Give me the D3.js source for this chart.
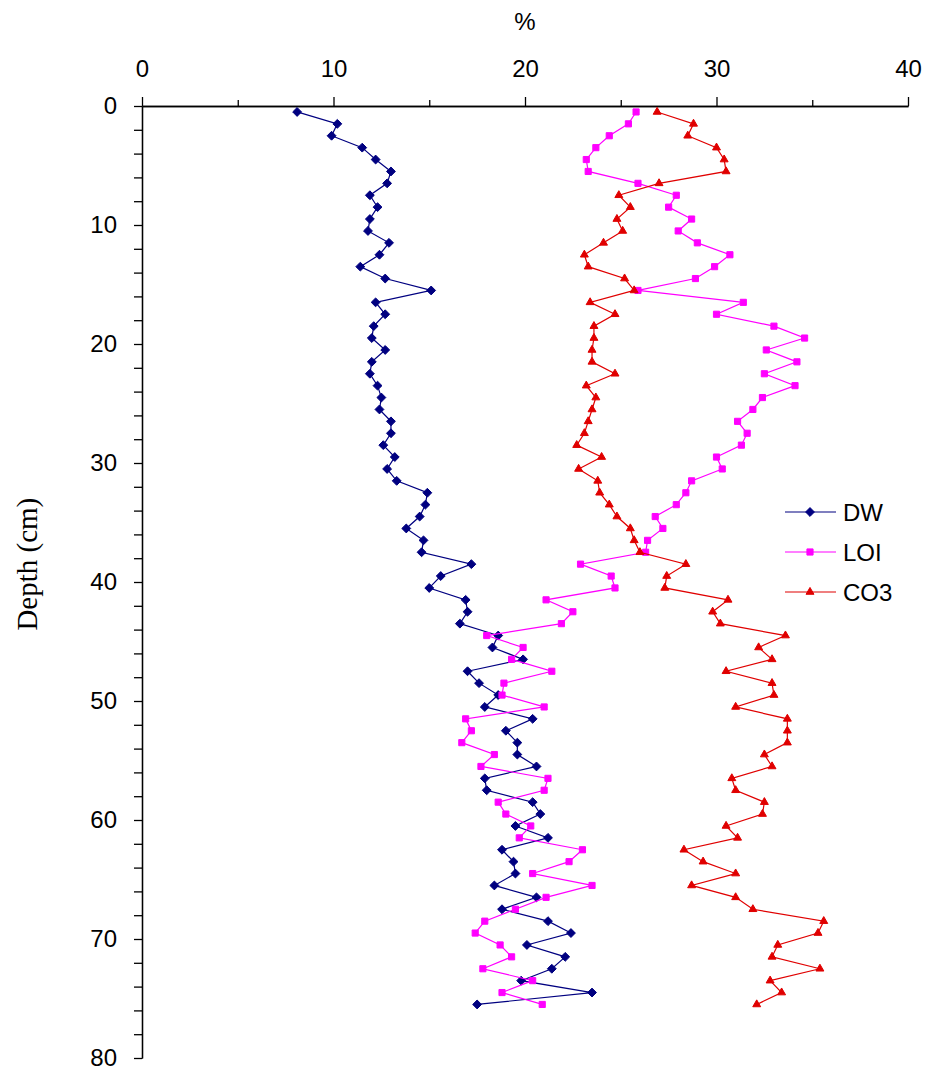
<!DOCTYPE html>
<html>
<head>
<meta charset="utf-8">
<script src="https://cdn.jsdelivr.net/npm/d3@7"></script>
<style>
  body { margin: 0; background: #fff; }
  .axis path, .axis line { stroke: #000; stroke-width: 1.3px; }
  .axis text { font-family: "Liberation Sans", Arial, sans-serif; font-size: 24px; fill: #000; }
</style>
</head>
<body>
<div id="chart"></div>
<script>
// depth of each sample (cm)
const depth = [0.5, 1.5, 2.5, 3.5, 4.5, 5.5, 6.5, 7.5, 8.5, 9.5,
  10.5, 11.5, 12.5, 13.5, 14.5, 15.5, 16.5, 17.5, 18.5, 19.5,
  20.5, 21.5, 22.5, 23.5, 24.5, 25.5, 26.5, 27.5, 28.5, 29.5,
  30.5, 31.5, 32.5, 33.5, 34.5, 35.5, 36.5, 37.5, 38.5, 39.5,
  40.5, 41.5, 42.5, 43.5, 44.5, 45.5, 46.5, 47.5, 48.5, 49.5,
  50.5, 51.5, 52.5, 53.5, 54.5, 55.5, 56.5, 57.5, 58.5, 59.5,
  60.5, 61.5, 62.5, 63.5, 64.5, 65.5, 66.5, 67.5, 68.5, 69.5,
  70.5, 71.5, 72.5, 73.5, 74.5, 75.5];

const dw = [8.1, 10.2, 9.9, 11.5, 12.2, 13.0, 12.8, 11.9, 12.3, 11.9,
  11.8, 12.9, 12.4, 11.4, 12.7, 15.1, 12.2, 12.7, 12.1, 12.0,
  12.7, 12.0, 11.9, 12.3, 12.5, 12.4, 13.0, 13.0, 12.6, 13.2,
  12.8, 13.3, 14.9, 14.8, 14.5, 13.8, 14.7, 14.6, 17.2, 15.6,
  15.0, 16.9, 17.0, 16.6, 18.6, 18.3, 19.9, 17.0, 17.6, 18.6,
  17.9, 20.4, 19.0, 19.6, 19.6, 20.6, 17.9, 18.0, 20.4, 20.8,
  19.5, 21.2, 18.8, 19.4, 19.5, 18.4, 20.6, 18.8, 21.2, 22.4,
  20.1, 22.1, 21.4, 19.8, 23.5, 17.5];

const loi = [25.8, 25.4, 24.4, 23.7, 23.2, 23.3, 25.9, 27.9, 27.5, 28.7,
  28.0, 29.0, 30.7, 29.9, 28.9, 25.9, 31.4, 30.0, 33.0, 34.6,
  32.6, 34.2, 32.5, 34.1, 32.4, 31.9, 31.1, 31.6, 31.3, 30.0,
  30.3, 28.7, 28.4, 27.9, 26.8, 27.2, 26.4, 26.3, 22.9, 24.5,
  24.7, 21.1, 22.5, 21.9, 18.0, 19.9, 19.3, 21.4, 18.9, 18.8,
  21.0, 16.9, 17.2, 16.7, 18.4, 17.7, 21.2, 21.0, 18.6, 19.0,
  20.3, 19.7, 23.0, 22.3, 20.4, 23.5, 21.1, 19.5, 17.9, 17.4,
  18.7, 19.3, 17.8, 20.4, 18.8, 20.9];

const co3 = [26.9, 28.8, 28.5, 30.0, 30.4, 30.5, 27.0, 24.9, 25.5, 24.8,
  25.1, 24.1, 23.1, 23.3, 25.2, 25.7, 23.4, 24.7, 23.6, 23.6,
  23.5, 23.5, 24.7, 23.2, 23.7, 23.5, 23.3, 23.1, 22.7, 24.0,
  22.8, 23.8, 23.9, 24.4, 24.8, 25.5, 25.7, 26.0, 28.4, 27.4,
  27.3, 30.6, 29.8, 30.2, 33.6, 32.2, 32.9, 30.5, 32.9, 33.0,
  31.0, 33.7, 33.7, 33.7, 32.5, 32.9, 30.8, 31.0, 32.5, 32.4,
  30.5, 31.1, 28.3, 29.3, 31.0, 28.7, 31.0, 31.9, 35.6, 35.3,
  33.2, 32.9, 35.4, 32.8, 33.4, 32.1];

const seriesNames = ["DW", "LOI", "CO3"];
const xTicks = [0, 10, 20, 30, 40];
const xMinorTicks = [5, 15, 25, 35];
const yTicks = [0, 10, 20, 30, 40, 50, 60, 70, 80];
const yMinorStep = 2;

const width = 926, height = 1074;
const margin = {top: 106, right: 18, bottom: 16, left: 142};

const svg = d3.select("#chart").append("svg")
  .attr("width", width)
  .attr("height", height);

const x = d3.scaleLinear().domain([0, 40]).range([margin.left, width - margin.right]);
const y = d3.scaleLinear().domain([0, 80]).range([margin.top, height - margin.bottom]);

// top axis (%): minor ticks first, then labelled ticks
svg.append("g")
  .attr("class", "axis")
  .attr("transform", `translate(0,${margin.top})`)
  .call(d3.axisTop(x).tickValues(xMinorTicks).tickSize(6).tickSizeOuter(0).tickFormat(""));

svg.append("g")
  .attr("class", "axis")
  .attr("transform", `translate(0,${margin.top})`)
  .call(d3.axisTop(x).tickValues(xTicks).tickSize(9).tickSizeOuter(0).tickPadding(20));

// left axis (depth): minor ticks every 2 cm, labels every 10
const yMinor = d3.range(0, 80 + yMinorStep, yMinorStep).filter(d => !yTicks.includes(d));
svg.append("g")
  .attr("class", "axis")
  .attr("transform", `translate(${margin.left},0)`)
  .call(d3.axisLeft(y).tickValues(yMinor).tickSize(8).tickSizeOuter(0).tickFormat(""));

svg.append("g")
  .attr("class", "axis")
  .attr("transform", `translate(${margin.left},0)`)
  .call(d3.axisLeft(y).tickValues(yTicks).tickSize(8).tickSizeOuter(0).tickPadding(17));

// axis titles
svg.append("text")
  .attr("x", x(20))
  .attr("y", 30)
  .attr("text-anchor", "middle")
  .style("font-family", "Liberation Sans, Arial, sans-serif")
  .style("font-size", "24px")
  .text("%");

svg.append("text")
  .attr("transform", `translate(37,${y(38.5)}) rotate(-90)`)
  .attr("text-anchor", "middle")
  .style("font-family", "Liberation Serif, Times New Roman, serif")
  .style("font-size", "29px")
  .text("Depth (cm)");

const series = [
  {name: seriesNames[0], values: dw, color: "#000080", symbol: d3.symbolDiamond2, size: 50},
  {name: seriesNames[1], values: loi, color: "#ff00ff", symbol: d3.symbolSquare2, size: 48},
  {name: seriesNames[2], values: co3, color: "#e00000", symbol: d3.symbolTriangle2, size: 45}
];

const line = d3.line()
  .x(d => x(d.v))
  .y(d => y(d.depth));

series.forEach(s => {
  const pts = s.values.map((v, i) => ({v, depth: depth[i]}));
  const g = svg.append("g");
  g.append("path")
    .datum(pts)
    .attr("fill", "none")
    .attr("stroke", s.color)
    .attr("stroke-width", 1.2)
    .attr("d", line);
  g.selectAll("path.mk")
    .data(pts)
    .enter()
    .append("path")
    .attr("class", "mk")
    .attr("transform", d => `translate(${x(d.v)},${y(d.depth)})`)
    .attr("d", d3.symbol().type(s.symbol).size(s.size))
    .attr("fill", s.color)
    .attr("stroke", s.color)
    .attr("stroke-width", 1);
});

// legend
const legend = svg.append("g").attr("transform", "translate(785,512)");
series.forEach((s, i) => {
  const row = legend.append("g").attr("transform", `translate(0,${i * 40})`);
  row.append("line")
    .attr("x1", 0).attr("x2", 51)
    .attr("y1", 0).attr("y2", 0)
    .attr("stroke", s.color)
    .attr("stroke-width", 1.2);
  row.append("path")
    .attr("transform", "translate(25,0)")
    .attr("d", d3.symbol().type(s.symbol).size(s.size))
    .attr("fill", s.color)
    .attr("stroke", s.color);
  row.append("text")
    .attr("x", 58)
    .attr("y", 9)
    .style("font-family", "Liberation Sans, Arial, sans-serif")
    .style("font-size", "24px")
    .text(s.name);
});
</script>
</body>
</html>
